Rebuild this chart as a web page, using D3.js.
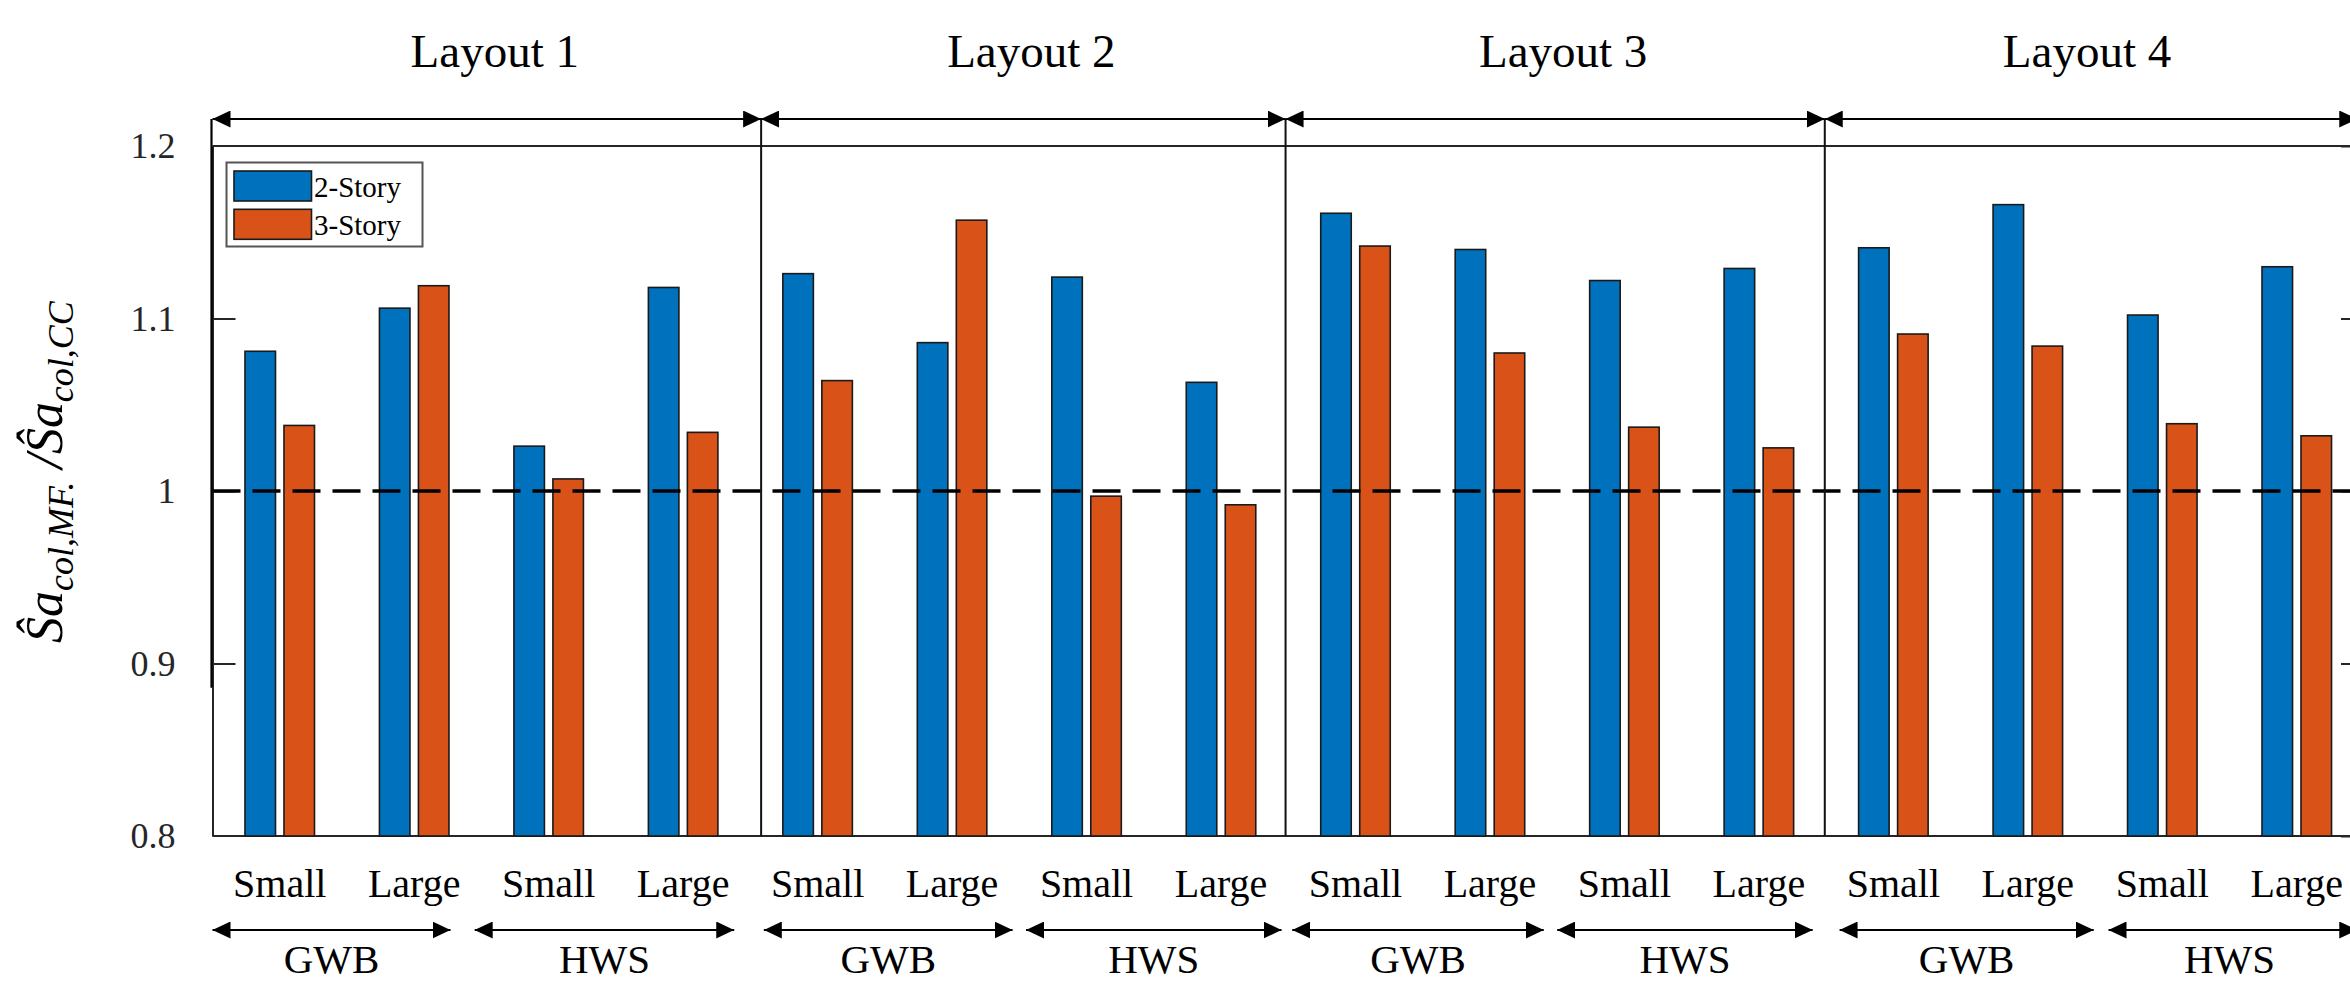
<!DOCTYPE html>
<html>
<head>
<meta charset="utf-8">
<script src="https://cdn.jsdelivr.net/npm/d3@7"></script>
<style>
  html, body { margin: 0; padding: 0; background: #fff; }
  svg { display: block; }
  svg text { font-family: "Liberation Serif", "Times New Roman", serif; }
</style>
</head>
<body>
<svg id="chart" width="2350" height="983"></svg>
<script>
// ---------------- data ----------------
const categories = ["Small","Large","Small","Large","Small","Large","Small","Large",
                    "Small","Large","Small","Large","Small","Large","Small","Large"];
const story2 = [1.081, 1.106, 1.026, 1.118, 1.126, 1.086, 1.124, 1.063,
                1.161, 1.140, 1.122, 1.129, 1.141, 1.166, 1.102, 1.130];
const story3 = [1.038, 1.119, 1.007, 1.034, 1.064, 1.157, 0.997, 0.992,
                1.142, 1.080, 1.037, 1.025, 1.091, 1.084, 1.039, 1.032];
const seriesNames = ["2-Story", "3-Story"];
const layoutNames = ["Layout 1", "Layout 2", "Layout 3", "Layout 4"];
const layoutSpans = [[0.5, 4.58], [4.58, 8.48], [8.48, 12.49], [12.49, 16.45]];
const dividers = [4.58, 8.48, 12.49];
const materialNames = ["GWB","HWS","GWB","HWS","GWB","HWS","GWB","HWS"];
const materialSpans = [[0.5, 2.27], [2.45, 4.38], [4.6, 6.45], [6.55, 8.45],
                       [8.53, 10.4], [10.5, 12.4], [12.6, 14.49], [14.6, 16.45]];
const yTicks = [0.8, 0.9, 1.0, 1.1, 1.2];
const yTickLabels = ["0.8", "0.9", "1", "1.1", "1.2"];
const refValue = 1.0;

// ---------------- layout ----------------
const colors = ["#0072BD", "#D95319"];
const svg = d3.select("#chart");
const x = d3.scaleLinear().domain([0.5, 16.5]).range([212.5, 2364]);
const y = d3.scaleLinear().domain([0.8, 1.2]).range([836, 146]);
const unit = x(2) - x(1);
const barW = 0.227 * unit;
const offs = [-0.145 * unit, 0.145 * unit];
const axisCol = "#262626";
const topArrowY = 119;
const botArrowY = 930;
const serif = "'Liberation Serif', 'Times New Roman', serif";

// arrowhead markers
const defs = svg.append("defs");
defs.append("marker").attr("id", "ahEnd").attr("viewBox", "0 0 18 17")
  .attr("refX", 18).attr("refY", 8.5).attr("markerWidth", 18).attr("markerHeight", 17)
  .attr("markerUnits", "userSpaceOnUse").attr("orient", "auto")
  .append("path").attr("d", "M0,0 L18,8.5 L0,17 Z").attr("fill", "#000");
defs.append("marker").attr("id", "ahStart").attr("viewBox", "0 0 18 17")
  .attr("refX", 0).attr("refY", 8.5).attr("markerWidth", 18).attr("markerHeight", 17)
  .attr("markerUnits", "userSpaceOnUse").attr("orient", "auto")
  .append("path").attr("d", "M18,0 L0,8.5 L18,17 Z").attr("fill", "#000");

// axes frame: top line, bottom baseline
const xs = d3.range(1, 17);
svg.append("line").attr("x1", x(0.5)).attr("x2", x(16.5)).attr("y1", y(1.2)).attr("y2", y(1.2))
  .attr("stroke", axisCol).attr("stroke-width", 2);
svg.append("line").attr("x1", x(0.5)).attr("x2", x(16.5)).attr("y1", y(0.8)).attr("y2", y(0.8))
  .attr("stroke", axisCol).attr("stroke-width", 2);

// y axis with d3 (ticks inside)
const yAxisL = d3.axisLeft(y).tickValues(yTicks).tickFormat((d, i) => yTickLabels[i])
  .tickSizeInner(-23).tickSizeOuter(0).tickPadding(37);
const gL = svg.append("g").attr("transform", `translate(${x(0.5)},0)`).call(yAxisL)
  .attr("font-family", null).attr("font-size", null);
gL.select(".domain").attr("stroke", axisCol).attr("stroke-width", 2);
gL.selectAll(".tick line").attr("stroke", axisCol).attr("stroke-width", 2);
gL.selectAll(".tick text").style("font-family", serif)
  .style("font-size", "36px").attr("fill", axisCol);
gL.selectAll(".tick").filter(d => d === 0.8 || d === 1.2).select("line").remove();

const yAxisR = d3.axisRight(y).tickValues(yTicks).tickFormat("").tickSizeInner(-23).tickSizeOuter(0);
const gR = svg.append("g").attr("transform", `translate(${x(16.5)},0)`).call(yAxisR);
gR.select(".domain").attr("stroke", axisCol).attr("stroke-width", 2);
gR.selectAll(".tick line").attr("stroke", axisCol).attr("stroke-width", 2);

// bars
const series = [story2, story3];
series.forEach((vals, s) => {
  svg.append("g").selectAll("rect").data(vals).enter().append("rect")
    .attr("x", (d, i) => x(xs[i]) + offs[s] - barW / 2)
    .attr("width", barW)
    .attr("y", d => y(d))
    .attr("height", d => y(0.8) - y(d))
    .attr("fill", colors[s])
    .attr("stroke", "#1a1a1a").attr("stroke-width", 1.6);
});

// dashed reference line
svg.append("line").attr("x1", x(0.5)).attr("x2", x(16.5)).attr("y1", y(refValue)).attr("y2", y(refValue))
  .attr("stroke", "#000").attr("stroke-width", 3.5).attr("stroke-dasharray", "28,12");

// left black partial line and layout dividers
svg.append("line").attr("x1", x(0.5) - 1).attr("x2", x(0.5) - 1)
  .attr("y1", topArrowY).attr("y2", y(0.886)).attr("stroke", "#000").attr("stroke-width", 2.2);
svg.append("g").selectAll("line").data(dividers).enter().append("line")
  .attr("x1", d => x(d)).attr("x2", d => x(d))
  .attr("y1", topArrowY).attr("y2", y(0.8))
  .attr("stroke", "#111").attr("stroke-width", 2);

// top layout arrows + titles
svg.append("g").selectAll("line").data(layoutSpans).enter().append("line")
  .attr("x1", d => x(d[0])).attr("x2", d => x(d[1]))
  .attr("y1", topArrowY).attr("y2", topArrowY)
  .attr("stroke", "#000").attr("stroke-width", 2)
  .attr("marker-start", "url(#ahStart)").attr("marker-end", "url(#ahEnd)");
svg.append("g").selectAll("text").data(layoutNames).enter().append("text")
  .attr("x", (d, i) => x((layoutSpans[i][0] + Math.min(layoutSpans[i][1], 16.5)) / 2) + (i === 3 ? -4 : 8))
  .attr("y", 67).attr("text-anchor", "middle")
  .attr("font-size", 47).attr("fill", "#000").text(d => d);

// category labels
svg.append("g").selectAll("text").data(categories).enter().append("text")
  .attr("x", (d, i) => x(xs[i])).attr("y", 897).attr("text-anchor", "middle")
  .attr("font-size", 40).attr("fill", "#000").text(d => d);

// bottom material arrows + labels
svg.append("g").selectAll("line").data(materialSpans).enter().append("line")
  .attr("x1", d => x(d[0])).attr("x2", d => x(d[1]))
  .attr("y1", botArrowY).attr("y2", botArrowY)
  .attr("stroke", "#000").attr("stroke-width", 2)
  .attr("marker-start", "url(#ahStart)").attr("marker-end", "url(#ahEnd)");
svg.append("g").selectAll("text").data(materialNames).enter().append("text")
  .attr("x", (d, i) => x((materialSpans[i][0] + Math.min(materialSpans[i][1], 16.4)) / 2))
  .attr("y", 973).attr("text-anchor", "middle")
  .attr("font-size", 41).attr("fill", "#000").text(d => d);

// legend
const lg = svg.append("g");
lg.append("rect").attr("x", 226.5).attr("y", 162.5).attr("width", 196).attr("height", 84)
  .attr("fill", "#fff").attr("stroke", "#555").attr("stroke-width", 2);
seriesNames.forEach((name, i) => {
  lg.append("rect").attr("x", 234).attr("y", 171 + i * 38.3).attr("width", 77.5).attr("height", 30)
    .attr("fill", colors[i]).attr("stroke", "#1a1a1a").attr("stroke-width", 1.6);
  lg.append("text").attr("x", 314).attr("y", 196.5 + i * 38.3)
    .attr("font-size", 29).attr("fill", "#000").text(name);
});

// y label
const yl = svg.append("text")
  .attr("transform", `translate(62,472) rotate(-90)`)
  .attr("text-anchor", "middle")
  .attr("font-style", "italic").attr("font-size", 52).attr("fill", "#000");
yl.append("tspan").text("Ŝa");
yl.append("tspan").attr("font-size", 36).attr("dy", 11).text("col,MF.");
yl.append("tspan").attr("dy", -11).text(" /Ŝa");
yl.append("tspan").attr("font-size", 36).attr("dy", 11).text("col,CC");
</script>
</body>
</html>
